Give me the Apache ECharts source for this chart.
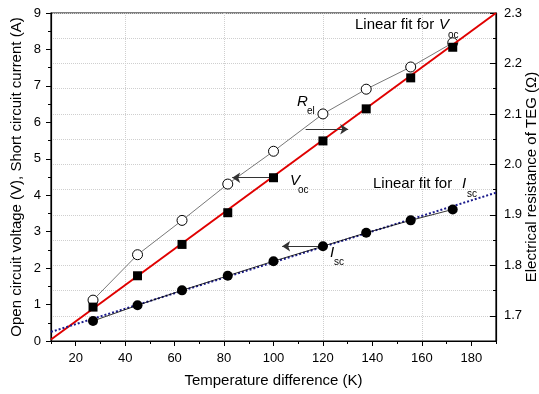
<!DOCTYPE html>
<html>
<head>
<meta charset="utf-8">
<script src="https://cdn.jsdelivr.net/npm/echarts@6/dist/echarts.min.js"></script>
<style>
  html, body { margin: 0; padding: 0; background: #fff; }
  #main { width: 539px; height: 394px; }
</style>
</head>
<body>
<div id="main"></div>
<script>
// measured points, temperature difference (K)
var dT = [27, 45, 63, 81.5, 100, 120, 137.5, 155.5, 172.5];
var voc = [0.93, 1.79, 2.65, 3.52, 4.48, 5.49, 6.37, 7.22, 8.06];   // V
var isc = [0.55, 0.98, 1.39, 1.79, 2.19, 2.6, 2.97, 3.31, 3.61];    // A
var rel = [1.731, 1.821, 1.889, 1.961, 2.026, 2.10, 2.149, 2.193, 2.241]; // ohm

// linear fits (end points)
var fitX = [10, 190];
var vocFit = [0.04, 9.0];
var iscFit = [0.25, 4.07];

// tick labels
var xTicks = [20, 40, 60, 80, 100, 120, 140, 160, 180];
var rTicks = [1.7, 1.8, 1.9, 2.0, 2.1, 2.2, 2.3];

// annotation arrows [from, to] in left-axis units
var arrows = [
  [[100, 4.48], [83.3, 4.48]],
  [[113, 5.81], [130.2, 5.81]],
  [[120, 2.6], [103.5, 2.6]]
];

function zip(xs, ys) {
  return xs.map(function (x, i) { return [x, ys[i]]; });
}

var font = '"Liberation Sans", Arial, sans-serif';
var black = '#000';
var gridCol = '#cfcfcf';

var chart = echarts.init(document.getElementById('main'));

var option = {
  animation: false,
  textStyle: { fontFamily: font },
  grid: {
    left: 51, right: 43, top: 13, bottom: 53,
    outerBoundsMode: 'none',
    show: true, borderColor: black, borderWidth: 1.2
  },
  xAxis: [{
    type: 'value', min: 10, max: 190, interval: 10,
    axisLine: { lineStyle: { color: black, width: 1.2 } },
    axisTick: { customValues: xTicks, length: 5, lineStyle: { color: black } },
    axisLabel: { customValues: xTicks, color: black, fontSize: 13, margin: 11 },
    // grid lines only at 20, 40, ...
    splitLine: { show: true, lineStyle: { color: ['rgba(0,0,0,0)', gridCol], type: 'dotted' } },
    name: 'Temperature difference (K)', nameLocation: 'middle', nameGap: 32,
    nameMoveOverlap: false,
    nameTextStyle: { fontSize: 15, color: black }
  }, {
    // minor ticks at 10, 30, ... 190
    type: 'value', min: 10, max: 190, interval: 20, position: 'bottom',
    axisLine: { show: false },
    axisTick: { length: 3, lineStyle: { color: black } },
    axisLabel: { show: false },
    splitLine: { show: false }
  }],
  yAxis: [{
    type: 'value', min: 0, max: 9, interval: 1, position: 'left',
    axisLine: { show: true, lineStyle: { color: black, width: 1.2 } },
    axisTick: { show: true, length: 5, lineStyle: { color: black } },
    minorTick: { show: true, splitNumber: 2, length: 3, lineStyle: { color: black } },
    axisLabel: { color: black, fontSize: 13, margin: 10 },
    splitLine: { show: false },
    name: 'Open circuit voltage (V), Short circuit current (A)',
    nameLocation: 'middle', nameGap: 27, nameMoveOverlap: false,
    nameTextStyle: { fontSize: 15, color: black }
  }, {
    type: 'value', min: 1.65, max: 2.3, interval: 0.05, position: 'right',
    axisLine: { show: true, lineStyle: { color: black, width: 1.2 } },
    axisTick: { inside: true, length: 3, lineStyle: { color: black } },
    axisLabel: {
      color: black, fontSize: 13, margin: 8,
      formatter: function (v) {
        var r = Math.round(v * 100);
        return r % 10 === 0 ? (r / 100).toFixed(1) : '';
      }
    },
    splitLine: { show: true, lineStyle: { color: gridCol, type: 'dotted' } },
    name: 'Electrical resistance of TEG (\u03A9)',
    nameLocation: 'middle', nameGap: 28, nameMoveOverlap: false,
    nameTextStyle: { fontSize: 15, color: black }
  }, {
    // long ticks at the labelled values
    type: 'value', min: 1.65, max: 2.3, position: 'right',
    axisLine: { show: false },
    axisTick: { inside: true, length: 6, customValues: rTicks, lineStyle: { color: black } },
    axisLabel: { show: false },
    splitLine: { show: false }
  }],
  graphic: [
    { type: 'text', x: 355, y: 25, style: { text: 'Linear fit for', font: '15px ' + font, fill: black, verticalAlign: 'middle' } },
    { type: 'text', x: 439, y: 25, style: { text: 'V', font: 'italic 15px ' + font, fill: black, verticalAlign: 'middle' } },
    { type: 'text', x: 448, y: 35, style: { text: 'oc', font: '10px ' + font, fill: black, verticalAlign: 'middle' } },

    { type: 'text', x: 373, y: 184, style: { text: 'Linear fit for', font: '15px ' + font, fill: black, verticalAlign: 'middle' } },
    { type: 'text', x: 462, y: 184, style: { text: 'I', font: 'italic 15px ' + font, fill: black, verticalAlign: 'middle' } },
    { type: 'text', x: 467, y: 194, style: { text: 'sc', font: '10px ' + font, fill: black, verticalAlign: 'middle' } },

    { type: 'text', x: 297, y: 102, style: { text: 'R', font: 'italic 15px ' + font, fill: black, verticalAlign: 'middle' } },
    { type: 'text', x: 307, y: 111, style: { text: 'el', font: '10px ' + font, fill: black, verticalAlign: 'middle' } },

    { type: 'text', x: 290, y: 181, style: { text: 'V', font: 'italic 15px ' + font, fill: black, verticalAlign: 'middle' } },
    { type: 'text', x: 298, y: 190, style: { text: 'oc', font: '10px ' + font, fill: black, verticalAlign: 'middle' } },

    { type: 'text', x: 330, y: 253, style: { text: 'I', font: 'italic 15px ' + font, fill: black, verticalAlign: 'middle' } },
    { type: 'text', x: 334, y: 262, style: { text: 'sc', font: '10px ' + font, fill: black, verticalAlign: 'middle' } }
  ],
  series: [{
    name: 'Rel', type: 'line', yAxisIndex: 1,
    data: zip(dT, rel),
    symbol: 'circle', symbolSize: 10,
    itemStyle: { color: '#fff', borderColor: black, borderWidth: 1 },
    lineStyle: { color: '#555', width: 0.8 },
    z: 3
  }, {
    name: 'Voc fit', type: 'line',
    data: zip(fitX, vocFit),
    symbol: 'none',
    lineStyle: { color: '#e00000', width: 2 },
    z: 4,
    markLine: {
      silent: true, symbol: ['none', 'arrow'], symbolSize: 8,
      label: { show: false },
      lineStyle: { color: '#333', width: 1, type: 'solid' },
      data: arrows.map(function (a) { return [{ coord: a[0] }, { coord: a[1] }]; })
    }
  }, {
    name: 'Voc', type: 'scatter',
    data: zip(dT, voc),
    symbol: 'rect', symbolSize: 9,
    itemStyle: { color: black, opacity: 1 },
    z: 6
  }, {
    name: 'Isc fit', type: 'line',
    data: zip(fitX, iscFit),
    symbol: 'none',
    lineStyle: { color: '#1a1a8c', width: 2, type: 'dotted' },
    z: 4
  }, {
    name: 'Isc', type: 'line',
    data: zip(dT, isc),
    symbol: 'circle', symbolSize: 10,
    itemStyle: { color: black },
    lineStyle: { color: black, width: 0.8 },
    z: 5
  }]
};

chart.setOption(option);
</script>
</body>
</html>
